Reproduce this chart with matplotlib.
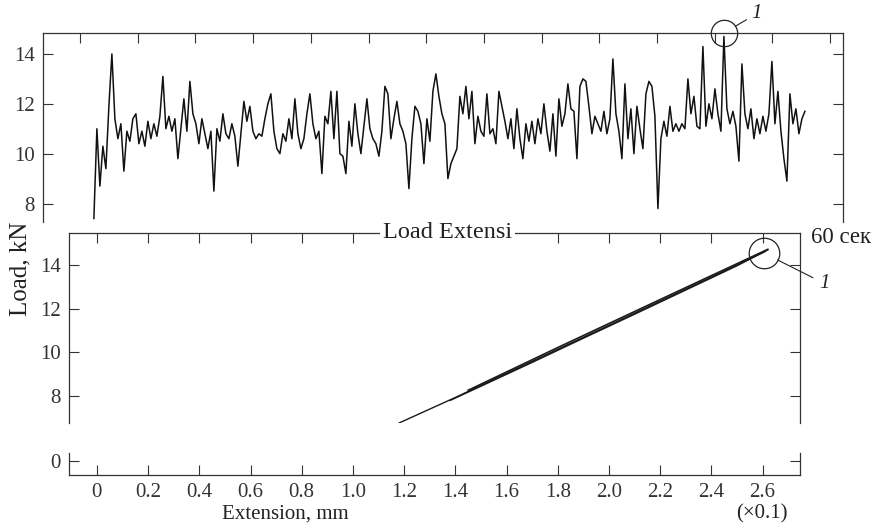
import matplotlib
matplotlib.use("Agg")
import matplotlib.pyplot as plt
import numpy as np

plt.rcParams['font.family'] = ['Liberation Serif', 'DejaVu Serif']
plt.rcParams['font.size'] = 15
plt.rcParams['axes.linewidth'] = 0.9
plt.rcParams['axes.edgecolor'] = '#333333'
plt.rcParams['xtick.color'] = '#333333'
plt.rcParams['ytick.color'] = '#333333'
plt.rcParams['text.color'] = '#222222'

# load vs time record (kN), one sample every 0.26 s starting at 1.2 s
load_time = [
    7.4, 11.0, 8.7, 10.3, 9.4, 11.9, 14.0, 11.4, 10.6, 11.2, 9.3, 10.9, 10.5, 11.4, 11.6, 10.4,
    10.9, 10.3, 11.3, 10.6, 11.2, 10.7, 11.5, 13.1, 11.0, 11.5, 10.9, 11.4, 9.8, 11.0, 12.2, 10.9,
    12.9, 11.6, 11.2, 10.4, 11.4, 10.8, 10.2, 10.9, 8.5, 11.0, 10.5, 11.6, 10.8, 10.6, 11.2, 10.7,
    9.5, 10.8, 12.1, 11.3, 11.9, 10.9, 10.6, 10.8, 10.7, 11.4, 12.0,
    12.4, 10.9, 10.2, 10.0, 10.8, 10.5, 11.4, 10.6, 12.2, 10.8, 10.2, 10.6, 11.6, 12.4, 11.2, 10.6,
    10.9, 9.2, 11.5, 11.2, 12.5, 10.6, 12.5, 10.0, 9.9, 9.2, 11.3, 10.3, 12.0, 10.8, 10.0, 11.1,
    12.2, 11.0, 10.6, 10.4, 9.9, 10.9, 12.7, 12.4, 10.6, 11.4, 12.1, 11.2, 10.9, 10.4, 8.6, 10.6,
    11.9, 11.7, 11.2, 9.6, 11.4, 10.5, 12.5, 13.2, 12.3, 11.6, 11.2,
    9.0, 9.6, 9.9, 10.2, 12.3, 11.6, 12.7, 11.4, 12.5, 10.4, 11.5, 10.9, 10.7, 12.4, 10.8, 11.0,
    10.4, 12.5, 11.9, 11.3, 10.6, 11.4, 10.2, 11.8, 10.6, 9.8, 11.2, 10.5, 11.3, 10.4, 11.4, 10.8,
    12.0, 10.9, 10.1, 11.6, 9.9, 12.2, 11.1, 11.6, 12.8, 11.8, 11.7, 9.8, 12.7, 13.0, 12.9, 11.9,
    10.8, 11.5, 11.2, 10.9, 11.7, 10.8, 11.4, 13.8, 11.6, 10.9, 9.8, 12.8, 10.6,
    11.8, 10.0, 11.9, 11.0, 10.2, 12.4, 12.9, 12.7, 11.5, 7.8, 10.6, 11.3, 10.7, 11.9, 10.9, 11.2,
    10.9, 11.2, 11.0, 13.0, 11.6, 12.3, 11.1, 11.0, 14.3, 11.1, 12.0, 11.4, 12.6, 11.6, 10.9, 14.7,
    11.8, 11.2, 11.7, 11.1, 9.7, 13.6, 11.6, 11.0, 11.8, 10.6, 11.4, 10.8, 11.5, 10.9, 11.6, 13.7,
    11.2, 12.5, 10.9, 9.8, 8.9, 12.4, 11.2, 11.8, 10.8, 11.4, 11.7,
]
t_start = 1.2
t_step = 0.26
time_ticks = np.arange(0, 66, 5)
peak_time = 55.8
peak_load = 14.84

# load vs extension (x0.1 mm), three overlapping strands
ext_a = [1.18, 1.40, 1.60, 1.80, 2.00, 2.20, 2.40, 2.61]
load_a = [6.76, 7.93, 9.04, 10.14, 11.24, 12.35, 13.45, 14.62]
ext_b = [1.38, 1.50, 1.70, 1.90, 2.10, 2.30, 2.50, 2.62]
load_b = [7.80, 8.45, 9.54, 10.65, 11.75, 12.86, 13.97, 14.70]
ext_c = [1.45, 1.80, 2.20, 2.62]
load_c = [8.26, 10.22, 12.42, 14.72]
end_ext = 2.605
end_load = 14.55

ext_ticks = [0, 0.2, 0.4, 0.6, 0.8, 1.0, 1.2, 1.4, 1.6, 1.8, 2.0, 2.2, 2.4, 2.6]
ext_labels = ['0', '0.2', '0.4', '0.6', '0.8', '1.0', '1.2', '1.4', '1.6', '1.8',
              '2.0', '2.2', '2.4', '2.6']
load_ticks = [8, 10, 12, 14]

W, H = 876, 528
fig = plt.figure(figsize=(W / 100, H / 100), dpi=100)


def px_axes(left, top, right, bottom):
    return fig.add_axes([left / W, 1 - bottom / H, (right - left) / W, (bottom - top) / H])


ax1 = px_axes(43, 33, 843, 222)
ax2 = px_axes(69, 233, 800, 423)
ax3 = px_axes(69, 453, 800, 475)

tick_kw = dict(direction='in', length=7, width=0.8, pad=6)

# --- top panel: load vs time
times = t_start + t_step * np.arange(len(load_time))
ax1.plot(times, load_time, color='#111111', linewidth=1.1)
ax1.set_xlim(-3.21, 66.12)
ax1.set_ylim(7.26, 14.84)
ax1.set_xticks(time_ticks)
ax1.set_yticks(load_ticks)
ax1.tick_params(axis='x', top=True, bottom=False, labeltop=False, labelbottom=False, **tick_kw)
ax1.tick_params(axis='y', left=True, right=True, labelleft=True, **tick_kw)
ax1.spines['bottom'].set_visible(False)
ax1.plot(peak_time, peak_load, 'o', ms=19, mfc='none', mec='#222222', mew=0.9, clip_on=False)
ax1.annotate('1', xy=(peak_time, peak_load), xytext=(20, 14), textcoords='offset points',
             ha='left', va='center', style='italic', fontsize=15,
             arrowprops=dict(arrowstyle='-', color='#222222', lw=0.8, shrinkA=2, shrinkB=9.5),
             annotation_clip=False)

# --- bottom panel: load vs extension
for e, l, lw in [(ext_a, load_a, 1.0), (ext_b, load_b, 1.1), (ext_c, load_c, 1.2)]:
    ax2.plot(e, l, color='#1a1a1a', linewidth=lw)
ax2.set_xlim(-0.109, 2.746)
ax2.set_ylim(6.76, 15.47)
ax2.set_xticks(ext_ticks)
ax2.set_yticks(load_ticks)
ax2.tick_params(axis='x', top=True, bottom=False, labeltop=False, labelbottom=False, **tick_kw)
ax2.tick_params(axis='y', left=True, right=True, labelleft=True, **tick_kw)
ax2.spines['bottom'].set_visible(False)
ax2.text(0.518, 1.0, 'Load Extensi', transform=ax2.transAxes, ha='center', va='center',
         fontsize=17.5, bbox=dict(fc='white', ec='none', pad=2), zorder=10, clip_on=False)
ax2.plot(end_ext, end_load, 'o', ms=22, mfc='none', mec='#222222', mew=0.9, clip_on=False)
ax2.annotate('1', xy=(end_ext, end_load), xytext=(40, -22), textcoords='offset points',
             ha='left', va='center', style='italic', fontsize=15,
             arrowprops=dict(arrowstyle='-', color='#222222', lw=0.8, shrinkA=3, shrinkB=11),
             annotation_clip=False)
fig.text(811 / W, 1 - 238 / H, '60 сек', ha='left', va='center', fontsize=16.5)
fig.text(20 / W, 1 - 269 / H, 'Load, kN', rotation=90, ha='center', va='center', fontsize=18)

# --- broken-axis strip holding the zero
ax3.set_xlim(-0.109, 2.746)
ax3.set_ylim(-0.655, 0.35)
ax3.set_xticks(ext_ticks)
ax3.set_xticklabels(ext_labels)
ax3.set_yticks([0])
ax3.tick_params(axis='x', top=False, bottom=True, **tick_kw)
ax3.tick_params(axis='y', left=True, right=True, labelleft=True, **tick_kw)
ax3.spines['top'].set_visible(False)
fig.text(285 / W, 1 - 514 / H, 'Extension, mm', ha='center', va='center', fontsize=15)
fig.text(762 / W, 1 - 514 / H, '(×0.1)', ha='center', va='center', fontsize=15)

fig.savefig('out.png', dpi=100)
